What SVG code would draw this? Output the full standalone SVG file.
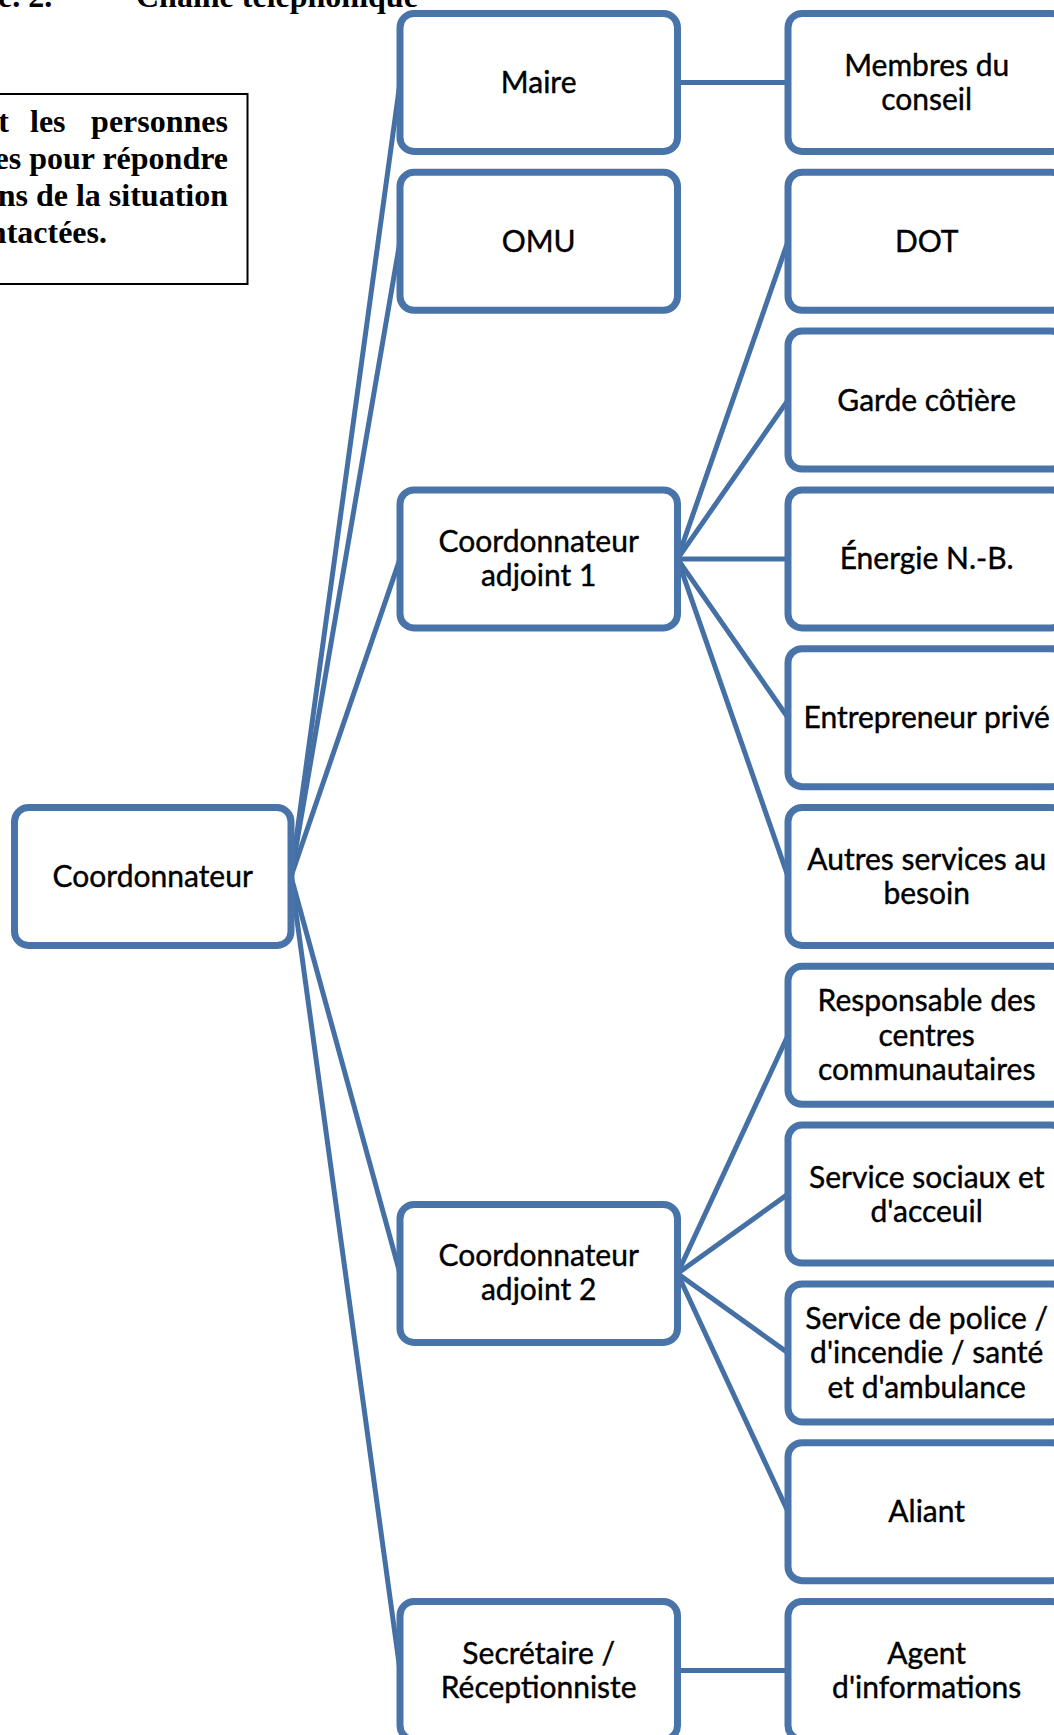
<svg xmlns="http://www.w3.org/2000/svg" width="1054" height="1735" viewBox="0 0 1054 1735">
<style>
.box{fill:#ffffff;stroke:#4874AA;stroke-width:7}
.ln{stroke:#4570A6;stroke-width:5;fill:none}
.t{font-family:Lato,"Liberation Sans",sans-serif;font-size:30px;fill:#000;stroke:#000;stroke-width:0.4;text-anchor:middle}
.s{font-family:"Liberation Serif",serif;font-weight:bold;font-size:32px;fill:#000}
</style>
<rect width="1054" height="1735" fill="#ffffff"/>
<g id="title">
<text class="s" x="-2" y="7">e. 2.</text>
<text class="s" x="136" y="7">Chaîne téléphonique</text>
</g>
<g id="note">
<rect x="-10" y="94" width="257.5" height="190" fill="none" stroke="#000" stroke-width="2"/>
<text class="s" x="9" y="132" text-anchor="end">t</text>
<text class="s" x="30" y="132">les</text>
<text class="s" x="228" y="132" text-anchor="end">personnes</text>
<text class="s" x="228" y="169" text-anchor="end">es pour répondre</text>
<text class="s" x="228" y="206" text-anchor="end">ns de la situation</text>
<text class="s" x="107" y="243" text-anchor="end">ntactées.</text>
</g>
<g id="connectors">
<line class="ln" x1="291" y1="876.5" x2="400" y2="82.5"/>
<line class="ln" x1="291" y1="876.5" x2="400" y2="241.3"/>
<line class="ln" x1="291" y1="876.5" x2="400" y2="558.9"/>
<line class="ln" x1="291" y1="876.5" x2="400" y2="1273.5"/>
<line class="ln" x1="291" y1="876.5" x2="400" y2="1670.5"/>
<line class="ln" x1="677.5" y1="82.5" x2="788" y2="82.5"/>
<line class="ln" x1="677.5" y1="558.9" x2="788" y2="241.3"/>
<line class="ln" x1="677.5" y1="558.9" x2="788" y2="400.1"/>
<line class="ln" x1="677.5" y1="558.9" x2="788" y2="558.9"/>
<line class="ln" x1="677.5" y1="558.9" x2="788" y2="717.7"/>
<line class="ln" x1="677.5" y1="558.9" x2="788" y2="876.5"/>
<line class="ln" x1="677.5" y1="1273.5" x2="788" y2="1035.3"/>
<line class="ln" x1="677.5" y1="1273.5" x2="788" y2="1194.1"/>
<line class="ln" x1="677.5" y1="1273.5" x2="788" y2="1352.9"/>
<line class="ln" x1="677.5" y1="1273.5" x2="788" y2="1511.7"/>
<line class="ln" x1="677.5" y1="1670.5" x2="788" y2="1670.5"/>
</g>
<g id="coordonnateur">
<rect class="box" x="14.5" y="807.5" width="276.5" height="138" rx="14"/>
<text class="t" x="152.7" y="887">Coordonnateur</text>
</g>
<g id="maire">
<rect class="box" x="400" y="13.5" width="277.5" height="138" rx="14"/>
<text class="t" x="538.7" y="93">Maire</text>
</g>
<g id="omu">
<rect class="box" x="400" y="172.3" width="277.5" height="138" rx="14"/>
<text class="t" x="538.7" y="251.8">OMU</text>
</g>
<g id="adjoint1">
<rect class="box" x="400" y="489.9" width="277.5" height="138" rx="14"/>
<text class="t" x="538.7" y="552.4">Coordonnateur</text>
<text class="t" x="538.7" y="586.4">adjoint 1</text>
</g>
<g id="adjoint2">
<rect class="box" x="400" y="1204.5" width="277.5" height="138" rx="14"/>
<text class="t" x="538.7" y="1266">Coordonnateur</text>
<text class="t" x="538.7" y="1300">adjoint 2</text>
</g>
<g id="secretaire">
<rect class="box" x="400" y="1601.5" width="277.5" height="138" rx="14"/>
<text class="t" x="538.7" y="1664">Secrétaire /</text>
<text class="t" x="538.7" y="1698">Réceptionniste</text>
</g>
<g id="membres">
<rect class="box" x="788" y="13.5" width="277.5" height="138" rx="14"/>
<text class="t" x="926.7" y="76">Membres du</text>
<text class="t" x="926.7" y="110">conseil</text>
</g>
<g id="dot">
<rect class="box" x="788" y="172.3" width="277.5" height="138" rx="14"/>
<text class="t" x="926.7" y="251.8">DOT</text>
</g>
<g id="garde">
<rect class="box" x="788" y="331.1" width="277.5" height="138" rx="14"/>
<text class="t" x="926.7" y="410.6">Garde côtière</text>
</g>
<g id="energie">
<rect class="box" x="788" y="489.9" width="277.5" height="138" rx="14"/>
<text class="t" x="926.7" y="569.4">Énergie N.-B.</text>
</g>
<g id="entrepreneur">
<rect class="box" x="788" y="648.7" width="277.5" height="138" rx="14"/>
<text class="t" x="926.7" y="728.2">Entrepreneur privé</text>
</g>
<g id="autres">
<rect class="box" x="788" y="807.5" width="277.5" height="138" rx="14"/>
<text class="t" x="926.7" y="870">Autres services au</text>
<text class="t" x="926.7" y="904">besoin</text>
</g>
<g id="responsable">
<rect class="box" x="788" y="966.3" width="277.5" height="138" rx="14"/>
<text class="t" x="926.7" y="1011.3">Responsable des</text>
<text class="t" x="926.7" y="1045.8">centres</text>
<text class="t" x="926.7" y="1080.3">communautaires</text>
</g>
<g id="sociaux">
<rect class="box" x="788" y="1125.1" width="277.5" height="138" rx="14"/>
<text class="t" x="926.7" y="1187.6">Service sociaux et</text>
<text class="t" x="926.7" y="1221.6">d'acceuil</text>
</g>
<g id="police">
<rect class="box" x="788" y="1283.9" width="277.5" height="138" rx="14"/>
<text class="t" x="926.7" y="1328.9">Service de police /</text>
<text class="t" x="926.7" y="1363.4">d'incendie / santé</text>
<text class="t" x="926.7" y="1397.9">et d'ambulance</text>
</g>
<g id="aliant">
<rect class="box" x="788" y="1442.7" width="277.5" height="138" rx="14"/>
<text class="t" x="926.7" y="1522.2">Aliant</text>
</g>
<g id="agent">
<rect class="box" x="788" y="1601.5" width="277.5" height="138" rx="14"/>
<text class="t" x="926.7" y="1664">Agent</text>
<text class="t" x="926.7" y="1698">d'informations</text>
</g>
</svg>
